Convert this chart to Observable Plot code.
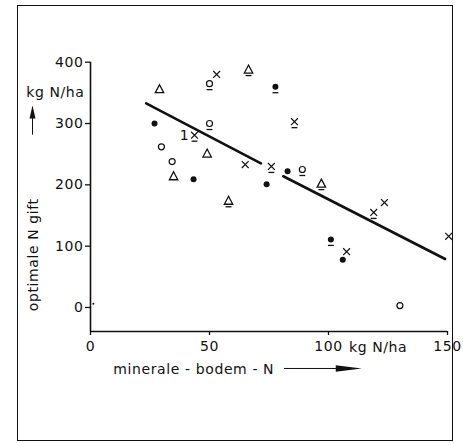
<!DOCTYPE html>
<html><head><meta charset="utf-8">
<script src="https://cdn.jsdelivr.net/npm/d3@7"></script>
<script src="https://cdn.jsdelivr.net/npm/@observablehq/plot@0.6"></script>
<style>
body{margin:0;background:#fff}
#wrap{position:relative;width:463px;height:443px}
#border{position:absolute;left:17px;top:5px;width:434px;height:434px;border:1.6px solid #111;pointer-events:none}
svg text{font-family:"DejaVu Sans",sans-serif;letter-spacing:0.6px}
</style></head><body><div id="wrap"><div id="border"></div></div>
<script>
// [x (kg N/ha mineral soil N), y (optimal N dose kg N/ha)]
const triangles = [[29,356],[34.9,214],[49,251]];
const trianglesU = [[58,174],[66.4,388],[97,202]];
const circles = [[29.8,262],[34.3,238],[130,3]];
const circlesU = [[50,300],[50,365],[89,225]];
const dots = [[26.9,300],[43.3,209],[74,201],[82.8,222],[106,78]];
const dotsU = [[77.7,360],[101,111]];
const crosses = [[53,380],[65,233],[123.5,171],[107.6,91],[150.5,116]];
const crossesU = [[43.7,281],[85.7,303],[76,230],[119,155]];
const speck = [[1.2,6]];
const regression1 = [[23.4,333],[71.6,235]];
const regression2 = [[81,214],[149,79]];
const xTicks = [0,50,100,150];
const yTicks = [0,100,200,300,400];

const pts = (arr) => arr.map(([x,y]) => ({x,y}));
const underlined = [...trianglesU, ...circlesU, ...dotsU, ...crossesU].map(([x,y])=>({x,y}));

const hline = {draw(ctx, size){ const r = Math.sqrt(size)/2; ctx.moveTo(-r,0); ctx.lineTo(r,0);} };
const tri = {draw(ctx){ ctx.moveTo(0,-4.5); ctx.lineTo(4.2,3.5); ctx.lineTo(-4.2,3.5); ctx.closePath(); }};
const upHead = {draw(ctx){ ctx.moveTo(0,-7); ctx.lineTo(3,6); ctx.lineTo(-3,6); ctx.closePath(); }};
const rightHead = {draw(ctx){ ctx.moveTo(13,0); ctx.lineTo(-13,3.2); ctx.lineTo(-13,-3.2); ctx.closePath(); }};

const fs = 14;
const chart = Plot.plot({
  width: 463, height: 443,
  marginLeft: 90, marginRight: 16, marginTop: 61.7, marginBottom: 112,
  x: {domain: [0,150], axis: null},
  y: {domain: [-39.2,400], axis: null},
  style: {fontFamily: '"DejaVu Sans",sans-serif', fontSize: fs+"px", color:"#111", background:"transparent"},
  marks: [
    Plot.axisY({ticks: yTicks, label: null, tickSize: 5, tickPadding: 2, tickFormat: d=>d, fontSize: fs, stroke:"#111", strokeWidth:1.3}),
    Plot.axisX({ticks: xTicks, label: null, tickSize: 4, tickPadding: 6, tickFormat: d=>d, fontSize: fs, stroke:"#111", strokeWidth:1.3}),
    Plot.ruleX([0], {y1: -39.2, y2: 400, stroke:"#111", strokeWidth: 1.6}),
    Plot.ruleY([-39.2], {x1: 0, x2: 150, stroke:"#111", strokeWidth: 1.6}),
    Plot.line(pts(regression1), {x:"x", y:"y", stroke:"#111", strokeWidth: 2.6}),
    Plot.line(pts(regression2), {x:"x", y:"y", stroke:"#111", strokeWidth: 2.6}),
    Plot.dot(pts([...triangles, ...trianglesU]), {x:"x", y:"y", symbol: tri, r: 3, stroke:"#111", strokeWidth:1.3, fill:"none"}),
    Plot.dot(pts([...circles, ...circlesU]), {x:"x", y:"y", symbol:"circle", r: 3, stroke:"#111", strokeWidth:1.2, fill:"none"}),
    Plot.dot(pts([...dots, ...dotsU]), {x:"x", y:"y", symbol:"circle", r: 3, fill:"#111", stroke:"none"}),
    Plot.dot(pts([...crosses, ...crossesU]), {x:"x", y:"y", symbol:"times", r: 3.2, stroke:"#111", strokeWidth:1.2}),
    Plot.dot(underlined, {x:"x", y:"y", symbol: hline, r: 3.3, dy: 6, stroke:"#111", strokeWidth:1.3}),
    Plot.dot(pts(speck), {x:"x", y:"y", r: 1, fill:"#111", stroke:"none"}),
    Plot.text([{x:43.7,y:281}], {x:"x", y:"y", text: ()=>"1", dx:-10, dy:0, fontSize: fs, fill:"#111"}),
    // y unit, arrow, label
    Plot.text([{x:0,y:350}], {x:"x", y:"y", text: ()=>"kg N/ha", textAnchor:"end", dx:-6, fontSize: fs, fill:"#111"}),
    Plot.ruleX([{x:0}], {x:"x", y1: 281, y2: 318, dx:-58, stroke:"#111", strokeWidth:1}),
    Plot.dot([{x:0,y:318}], {x:"x", y:"y", dx:-58, symbol: upHead, r: 3, fill:"#111", stroke:"none"}),
    Plot.text([{x:0,y:86}], {x:"x", y:"y", text: ()=>"optimale N gift", rotate:-90, dx:-57, fontSize: fs, fill:"#111"}),
    // x unit, label, arrow
    Plot.text([{x:108.6,y:-39.2}], {x:"x", y:"y", text: ()=>"kg N/ha", textAnchor:"start", dy:16, fontSize: fs, fill:"#111"}),
    Plot.text([{x:9.6,y:-101}], {x:"x", y:"y", text: ()=>"minerale - bodem - N", textAnchor:"start", fontSize: fs, fill:"#111"}),
    Plot.ruleY([{y:-99.5}], {y:"y", x1: 81.5, x2: 107, stroke:"#111", strokeWidth:1}),
    Plot.dot([{x:108.5,y:-99.5}], {x:"x", y:"y", symbol: rightHead, r: 3, fill:"#111", stroke:"none"})
  ]
});
document.getElementById("wrap").prepend(chart);
chart.style.position="absolute"; chart.style.left="0"; chart.style.top="0";
</script></body></html>
